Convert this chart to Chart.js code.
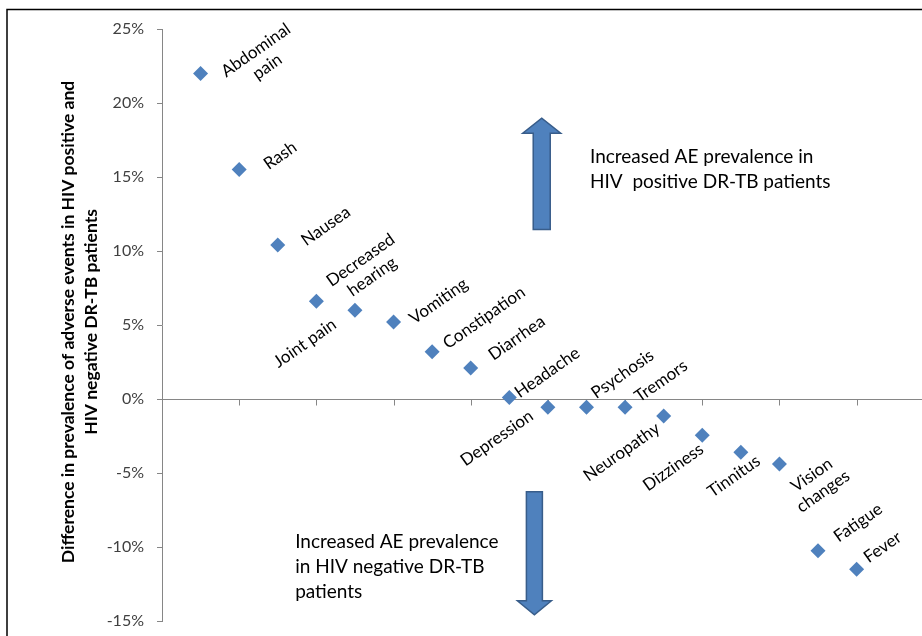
<!DOCTYPE html>
<html><head><meta charset="utf-8">
<script src="https://cdn.jsdelivr.net/npm/chart.js@4"></script>
<style>html,body{margin:0;padding:0;background:#fff;}#wrap{width:922px;height:636px;position:relative;}</style>
</head><body><div id="wrap"><canvas id="c" width="922" height="636"></canvas></div>
<script>
// ---------- data ----------
const categories = ["Abdominal pain","Rash","Nausea","Decreased hearing","Joint pain","Vomiting","Constipation","Diarrhea","Headache","Depression","Psychosis","Tremors","Neuropathy","Dizziness","Tinnitus","Vision changes","Fatigue","Fever"];
const differences = [22.0,15.5,10.4,6.6,6.0,5.2,3.2,2.1,0.1,-0.55,-0.55,-0.55,-1.15,-2.45,-3.6,-4.4,-10.25,-11.5];
const yTickValues = [-15,-10,-5,0,5,10,15,20,25];
const yTitleLines = ["Difference in prevalence of adverse events in HIV positive and","HIV negative DR-TB patients"];
const noteUp = ["Increased AE prevalence in","HIV  positive DR-TB patients"];
const noteDown = ["Increased AE prevalence","in HIV negative DR-TB","patients"];
const wrapped = ["Abdominal pain","Decreased hearing","Vision changes"];

// ---------- style (label placement offsets in px, not data) ----------
const labelOffsets = [[61,-15],[41,-14],[48,-19],[50,-33],[-50,33],[45,-21],[52,-34],[46,-30],[38,-25],[-51,31],[36,-33],[36,-26],[-42,36],[-29,32],[-7,24],[38,19],[40,-28],[26,-22]];
const FONT = "Lato, 'Liberation Sans', sans-serif";
const BLUE = '#4F81BD', BLUE_DARK = '#385D8A', AXIS = '#868686';

const points = differences.map((v,i)=>({x:i+1,y:v}));

const deco = {
  id:'deco',
  beforeDatasetsDraw(chart){
    const {ctx, chartArea:a, scales:{x,y}} = chart;
    ctx.save();
    // outer frame (top + left)
    ctx.strokeStyle='#000'; ctx.lineWidth=1.5;
    ctx.beginPath(); ctx.moveTo(7,636); ctx.lineTo(7,9.5); ctx.lineTo(922,9.5); ctx.stroke();
    // x axis at y = 0
    const y0 = Math.round(y.getPixelForValue(0))+0.5;
    ctx.strokeStyle=AXIS; ctx.lineWidth=1;
    ctx.beginPath(); ctx.moveTo(a.left,y0); ctx.lineTo(chart.width,y0); ctx.stroke();
    for(let v=2; v<=18; v+=2){
      const px = Math.round(x.getPixelForValue(v))+0.5;
      ctx.beginPath(); ctx.moveTo(px,y0); ctx.lineTo(px,y0+6); ctx.stroke();
    }
    // y title
    ctx.fillStyle='#000'; ctx.font="bold 17.5px "+FONT; ctx.textAlign='center'; ctx.textBaseline='middle';
    const cy = (a.top+a.bottom)/2 - 3;
    [68,91].forEach((cx,k)=>{ ctx.save(); ctx.translate(cx,cy); ctx.rotate(-Math.PI/2); ctx.fillText(yTitleLines[k],0,0); ctx.restore(); });
    // arrows
    function arrow(xc, yStart, yHeadBase, yTip, halfShaft, halfHead){
      const X = x.getPixelForValue(xc), Ys=y.getPixelForValue(yStart), Yb=y.getPixelForValue(yHeadBase), Yt=y.getPixelForValue(yTip);
      ctx.beginPath();
      ctx.moveTo(X-halfShaft,Ys); ctx.lineTo(X-halfShaft,Yb); ctx.lineTo(X-halfHead,Yb); ctx.lineTo(X,Yt);
      ctx.lineTo(X+halfHead,Yb); ctx.lineTo(X+halfShaft,Yb); ctx.lineTo(X+halfShaft,Ys); ctx.closePath();
      ctx.fillStyle=BLUE; ctx.fill(); ctx.strokeStyle=BLUE_DARK; ctx.lineWidth=1.5; ctx.stroke();
    }
    arrow(9.84, 11.46, 17.96, 18.98, 8.5, 19);
    arrow(9.65, -6.26, -13.63, -14.58, 8, 17);
    // notes
    ctx.fillStyle='#000'; ctx.font="19px "+FONT; ctx.textAlign='left'; ctx.textBaseline='alphabetic';
    const ux = x.getPixelForValue(11.09), uy = y.getPixelForValue(15.95);
    noteUp.forEach((t,k)=>ctx.fillText(t,ux,uy+k*25));
    const dx = x.getPixelForValue(3.45), dy = y.getPixelForValue(-10.07);
    noteDown.forEach((t,k)=>ctx.fillText(t,dx,dy+k*25));
    ctx.restore();
  },
  afterDatasetsDraw(chart){
    const {ctx} = chart; const meta = chart.getDatasetMeta(0);
    ctx.save();
    ctx.fillStyle='#000'; ctx.font="17px "+FONT; ctx.textAlign='center'; ctx.textBaseline='middle';
    meta.data.forEach((el,i)=>{
      const name = categories[i];
      const lines = wrapped.includes(name) ? name.split(' ') : [name];
      const off = labelOffsets[i];
      ctx.save(); ctx.translate(el.x+off[0], el.y+off[1]); ctx.rotate(-35*Math.PI/180);
      lines.forEach((ln,k)=>ctx.fillText(ln,0,(k-(lines.length-1)/2)*20));
      ctx.restore();
    });
    ctx.restore();
  }
};

new Chart(document.getElementById('c'),{
  type:'scatter',
  data:{datasets:[{data:points, pointStyle:'rectRot', pointRadius:7.5, pointHoverRadius:7.5, backgroundColor:BLUE, borderColor:BLUE, borderWidth:0}]},
  options:{
    responsive:false, animation:false, devicePixelRatio:1,
    layout:{padding:{left:0,right:0,top:29,bottom:15}},
    plugins:{legend:{display:false}, tooltip:{enabled:false}},
    scales:{
      x:{type:'linear', min:0, max:19.5, display:false},
      y:{min:-15, max:25, afterFit(s){s.width=162; s.paddingTop=0; s.paddingBottom=0;},
        afterBuildTicks(s){ s.ticks = yTickValues.map(v=>({value:v})); },
        ticks:{callback:v=>v+'%', color:'#404040', font:{family:FONT,size:16}, padding:13},
        grid:{drawOnChartArea:false, tickLength:5, color:AXIS},
        border:{color:AXIS}}
    }
  },
  plugins:[deco]
});
</script></body></html>
